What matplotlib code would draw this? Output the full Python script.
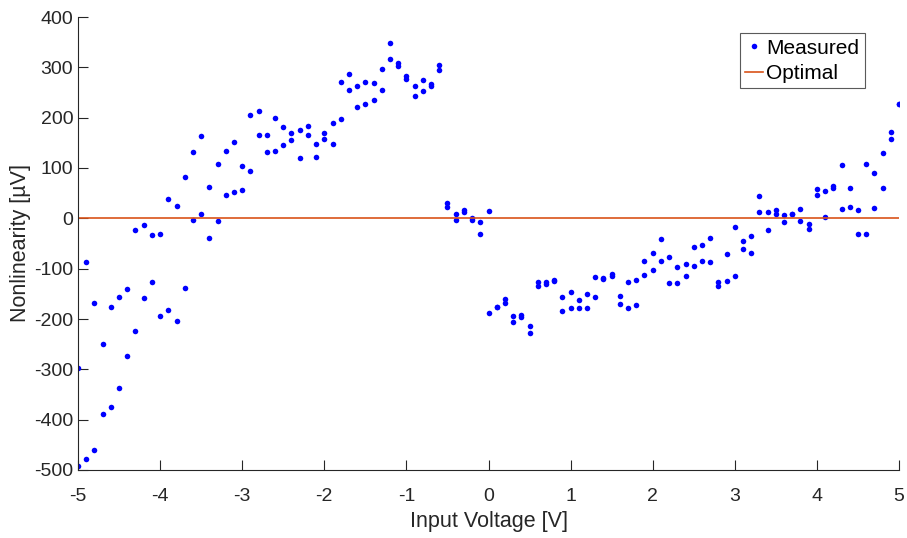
import matplotlib
matplotlib.use("Agg")
import matplotlib.pyplot as plt
import numpy as np

plt.rcParams['font.family'] = ['Liberation Sans', 'DejaVu Sans']

# Measured points: (voltage, nonlinearity in uV)
volt_a = [-5.0, -4.9, -4.8, -4.7, -4.6, -4.5, -4.4, -4.3, -4.2, -4.1, -4.0, -3.9, -3.8, -3.7,
          -3.6, -3.5, -3.4, -3.3, -3.2, -3.1, -3.0, -2.9, -2.8, -2.7, -2.6, -2.5, -2.4, -2.3,
          -2.2, -2.1, -2.0, -1.9, -1.8, -1.7, -1.6, -1.5, -1.4, -1.3, -1.2, -1.1, -1.0, -0.9,
          -0.8, -0.7, -0.6, -0.5, -0.4, -0.3, -0.2, -0.1, 0.0]
meas_a = [-297, -87, -168, -250, -177, -157, -141, -24, -13, -33, -31, 39, 25, 83,
          131, 164, 62, 107, 133, 151, 104, 206, 213, 166, 199, 181, 170, 175,
          184, 148, 169, 190, 270, 287, 262, 270, 268, 297, 349, 309, 283, 262,
          275, 266, 305, 30, 9, 16, 1, -8, 15]
meas_a2 = [-492, -478, -460, -388, -375, -338, -274, -224, -158, -126, -195, -183, -203, -138,
           -4, 9, -40, -5, 47, 53, 56, 95, 165, 131, 133, 146, 156, 119,
           165, 121, 158, 148, 198, 254, 221, 228, 236, 254, 316, 303, 276, 244,
           252, 263, 294, 22, -3, 13, -3, -32, -188]

volt_b = [0.1, 0.2, 0.3, 0.4, 0.5, 0.6, 0.7, 0.8, 0.9, 1.0, 1.1, 1.2, 1.3, 1.4, 1.5, 1.6,
          1.7, 1.8, 1.9, 2.0, 2.1, 2.2, 2.3, 2.4, 2.5, 2.6, 2.7, 2.8, 2.9, 3.0, 3.1, 3.2,
          3.3, 3.4, 3.5, 3.6, 3.7, 3.8, 3.9, 4.0, 4.1, 4.2, 4.3, 4.4, 4.5, 4.6, 4.7, 4.8,
          4.9, 5.0]
meas_b = [-177, -160, -195, -192, -213, -127, -127, -123, -156, -147, -162, -150, -117, -119,
          -110, -154, -127, -122, -85, -68, -42, -77, -97, -91, -57, -53, -40, -127, -70, -17,
          -46, -35, 44, 12, 17, 7, 9, 18, -11, 58, 54, 64, 105, 61, 17, 107, 91, 129,
          172, 228]
meas_b2 = [-177, -168, -205, -197, -227, -134, -130, -124, -184, -179, -179, -179, -156, -121,
           -114, -170, -179, -172, -113, -102, -85, -128, -128, -115, -95, -85, -87, -135, -124, -114,
           -60, -68, 12, -24, 8, -8, 9, -5, -22, 47, 3, 60, 19, 22, -31, -31, 21, 60,
           158, 228]

optimal_x = [-5, 5]
optimal_y = [0, 0]

x_ticks = np.arange(-5, 6, 1)
y_ticks = np.arange(-500, 401, 100)

volts = np.array(volt_a + volt_a + volt_b + volt_b)
meas = np.array(meas_a + meas_a2 + meas_b + meas_b2)

fig = plt.figure(figsize=(9.07, 5.38), dpi=100)
ax = fig.add_axes([78/907, 1-470/538, (899-78)/907, (470-17)/538])

ax.plot(volts, meas, linestyle='none', marker='o', markersize=4,
        color='#0000ff', markeredgewidth=0, label='Measured')
ax.plot(optimal_x, optimal_y, color='#D95319', linewidth=1.2, label='Optimal')

ax.set_xlim(-5, 5)
ax.set_ylim(-500, 400)
ax.set_xticks(x_ticks)
ax.set_yticks(y_ticks)
ax.set_xticklabels([str(v) for v in x_ticks])
ax.set_yticklabels([str(v) for v in y_ticks])

for s in ['top', 'right']:
    ax.spines[s].set_visible(False)
for s in ['left', 'bottom']:
    ax.spines[s].set_color('#262626')
    ax.spines[s].set_linewidth(0.8)
ax.tick_params(direction='in', length=7, width=0.8, colors='#262626',
               labelsize=14, labelcolor='#262626')
ax.tick_params(axis='x', pad=13)
ax.tick_params(axis='y', pad=3.5)

ax.set_xlabel('Input Voltage [V]', fontsize=15.5, color='#262626', labelpad=4)
ax.set_ylabel('Nonlinearity [\u00b5V]', fontsize=15.5, color='#262626', labelpad=2)

leg = ax.legend(loc='upper right', bbox_to_anchor=(958/1000, 0.964), fontsize=15,
                fancybox=False, framealpha=1, edgecolor='#5a5a5a',
                handlelength=0.85, handletextpad=0.15, borderpad=0.25,
                borderaxespad=0, labelspacing=0.32, markerscale=1.0)
leg.get_frame().set_linewidth(0.8)
for t in leg.get_texts():
    t.set_color('black')

fig.savefig('out.png', dpi=100)
